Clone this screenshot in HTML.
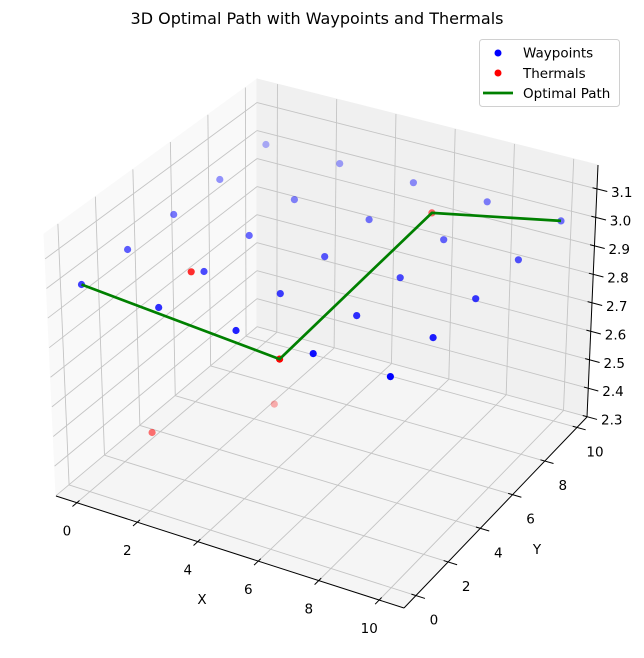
<!DOCTYPE html>
<html><head><meta charset="utf-8">
<style>
html,body{margin:0;padding:0;background:#fff;}
svg{display:block;font-family:"DejaVu Sans","Liberation Sans",sans-serif;}
</style></head>
<body>
<svg id="chart" width="644" height="658" viewBox="0 0 644 658">
<text x="317" y="24" text-anchor="middle" font-size="16" fill="#000">3D Optimal Path with Waypoints and Thermals</text>
<g id="panes"></g>
<g id="grid"></g>
<g id="axes"></g>
<g id="marks"></g>
<text x="202" y="604" text-anchor="middle" font-size="13.5">X</text>
<text x="537" y="554" text-anchor="middle" font-size="13.5">Y</text>
<g>
<rect x="479.5" y="39.5" width="140" height="67" rx="3" fill="#fff" fill-opacity="0.8" stroke="#d0d0d0"/>
<g><circle cx="498" cy="53" r="3.5" fill="#0000ff"/><text x="523" y="57.5" font-size="13.5">Waypoints</text></g>
<g><circle cx="498" cy="73" r="3.5" fill="#ff0000"/><text x="523" y="78" font-size="13.5">Thermals</text></g>
<g><line x1="483" y1="93" x2="513" y2="93" stroke="#008000" stroke-width="2.7"/><text x="523" y="98" font-size="13.5">Optimal Path</text></g>
</g>
</svg>
<script>
// ---- data ----
const wpX = [0,0,0,0,0, 2.5,2.5,2.5,2.5,2.5, 5,5,5,5,5, 7.5,7.5,7.5,7.5,7.5, 10,10,10,10,10];
const wpY = [0,2.5,5,7.5,10, 0,2.5,5,7.5,10, 0,2.5,5,7.5,10, 0,2.5,5,7.5,10, 0,2.5,5,7.5,10];
const wpZ = [3,3,3,3,3, 3,3,3,3,3, 3,3,3,3,3, 3,3,3,3,3, 3,3,3,3,3];
const thX = [2.2, 6.0, 6.4, 0.7, 2.1];
const thY = [2.3, 0.7, 8.7, 2.4, 7.0];
const thZ = [3.0, 2.9, 3.0, 2.4, 2.3];
const pathX = [0, 6.0, 6.4, 10];
const pathY = [0, 0.7, 8.7, 10];
const pathZ = [3, 2.9, 3.0, 3];
const xTicks = [0,2,4,6,8,10];
const yTicks = [0,2,4,6,8,10];
const zTicks = [2.3,2.4,2.5,2.6,2.7,2.8,2.9,3.0,3.1];
const zTickLabels = ["2.3","2.4","2.5","2.6","2.7","2.8","2.9","3.0","3.1"];

// ---- projection (box corners measured in pixels) ----
const XL=[-0.69,10.82], YL=[-0.74,10.62], ZL=[2.299,3.184];
const C = {
  '000':[56,496],'100':[404,608],'010':[257,327],'110':[587,417],
  '001':[44,234],'101':[403,340],'011':[257,79],'111':[598,165]
};
function lerp(a,b,t){return [a[0]+(b[0]-a[0])*t,a[1]+(b[1]-a[1])*t];}
function projN(u,v,w){
  const b0=lerp(lerp(C['000'],C['100'],u),lerp(C['010'],C['110'],u),v);
  const b1=lerp(lerp(C['001'],C['101'],u),lerp(C['011'],C['111'],u),v);
  return lerp(b0,b1,w);
}
function P(x,y,z){return projN((x-XL[0])/(XL[1]-XL[0]),(y-YL[0])/(YL[1]-YL[0]),(z-ZL[0])/(ZL[1]-ZL[0]));}
function closeness(x,y,z){
  const u=(x-XL[0])/(XL[1]-XL[0]),v=(y-YL[0])/(YL[1]-YL[0]),w=(z-ZL[0])/(ZL[1]-ZL[0]);
  return 0.433*4*u-0.75*4*v+0.5*3*w;
}
const NS='http://www.w3.org/2000/svg';
function mk(tag,attrs,parent){const e=document.createElementNS(NS,tag);for(const k in attrs)e.setAttribute(k,attrs[k]);parent.appendChild(e);return e;}
function poly(pts){return pts.map(p=>p[0].toFixed(1)+','+p[1].toFixed(1)).join(' ');}

const panes=document.getElementById('panes');
let e;
e=mk('polygon',{points:poly([C['000'],C['010'],C['011'],C['001']]),fill:'#f9f9f9',stroke:'#f9f9f9'},panes);


e=mk('polygon',{points:poly([C['010'],C['110'],C['111'],C['011']]),fill:'#f0f0f0',stroke:'#f0f0f0'},panes);


e=mk('polygon',{points:poly([C['000'],C['100'],C['110'],C['010']]),fill:'#f5f5f5',stroke:'#f5f5f5'},panes);



const grid=document.getElementById('grid');
function gl(a,b,name){
  const l=mk('line',{x1:a[0],y1:a[1],x2:b[0],y2:b[1],stroke:'#c4c4c4','stroke-width':0.9},grid);
  
  
}
xTicks.forEach(x=>{gl(P(x,YL[0],ZL[0]),P(x,YL[1],ZL[0]),'floor-gridline-x');gl(P(x,YL[1],ZL[0]),P(x,YL[1],ZL[1]),'back-gridline-x');});
yTicks.forEach(y=>{gl(P(XL[0],y,ZL[0]),P(XL[1],y,ZL[0]),'floor-gridline-y');gl(P(XL[0],y,ZL[0]),P(XL[0],y,ZL[1]),'left-gridline-y');});
zTicks.forEach(z=>{gl(P(XL[0],YL[0],z),P(XL[0],YL[1],z),'left-gridline-z');gl(P(XL[0],YL[1],z),P(XL[1],YL[1],z),'back-gridline-z');});

const axes=document.getElementById('axes');
function al(a,b,name){
  const l=mk('line',{x1:a[0],y1:a[1],x2:b[0],y2:b[1],stroke:'#000','stroke-width':1},axes);
  
  
}
function lbl(p,txt,name,anchor){
  const t=mk('text',{x:p[0],y:p[1],'text-anchor':anchor||'middle','font-size':13.5,fill:'#000'},axes);
  t.textContent=txt;
  
  
}
al(C['000'],C['100'],'x-axis-line');
al(C['100'],C['110'],'y-axis-line');
al(C['110'],C['111'],'z-axis-line');
xTicks.forEach(x=>{
  const a=P(x,YL[0]+0.15,ZL[0]),b=P(x,YL[0]-0.25,ZL[0]);al(a,b,'x-tick');
  const p=P(x,YL[0],ZL[0]);lbl([p[0]-10,p[1]+33],String(x),'x-tick-label');
});
yTicks.forEach(y=>{
  const a=P(XL[1]-0.15,y,ZL[0]),b=P(XL[1]+0.3,y,ZL[0]);al(a,b,'y-tick');
  const p=P(XL[1],y,ZL[0]);lbl([p[0]+18,p[1]+29],String(y),'y-tick-label');
});
zTicks.forEach((z,i)=>{
  const a=P(XL[1]-0.15,YL[1],z),b=P(XL[1]+0.35,YL[1],z);al(a,b,'z-tick');
  const p=P(XL[1],YL[1],z);lbl([p[0]+14,p[1]+8],zTickLabels[i],'z-tick-label','start');
});

const marks=document.getElementById('marks');
function scatter(xs,ys,zs,color,name){
  const cs=xs.map((x,i)=>closeness(x,ys[i],zs[i]));
  const mn=Math.min(...cs),mx=Math.max(...cs);
  const idx=xs.map((_,i)=>i).sort((a,b)=>cs[a]-cs[b]);
  idx.forEach(i=>{
    const p=P(xs[i],ys[i],zs[i]);
    const a=1-0.7*(mx-cs[i])/((mx-mn)||1);
    const c=mk('circle',{cx:p[0].toFixed(1),cy:p[1].toFixed(1),r:3.6,fill:color,'fill-opacity':a.toFixed(2)},marks);
    
    
  });
}
scatter(wpX,wpY,wpZ,'#0000ff','waypoint-point');
scatter(thX,thY,thZ,'#ff0000','thermal-point');
const pp=pathX.map((x,i)=>P(x,pathY[i],pathZ[i]));
const pl=mk('polyline',{points:poly(pp),fill:'none',stroke:'#008000','stroke-width':2.7,'stroke-linejoin':'round'},marks);


</script>
</body></html>
